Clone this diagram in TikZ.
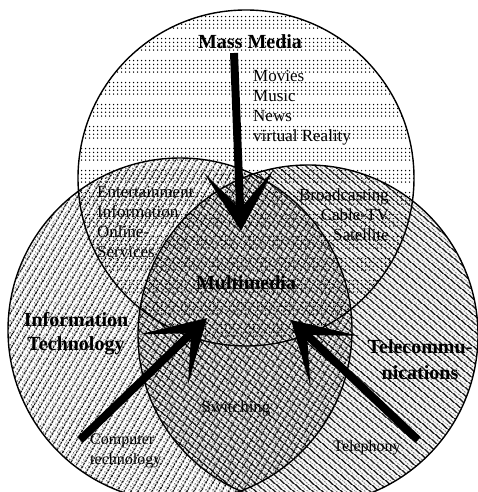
\documentclass[tikz,border=0pt]{standalone}
\usepackage{fontspec}
\setmainfont{Liberation Serif}
\usetikzlibrary{arrows.meta,patterns.meta}

\tikzdeclarepattern{name=dotrows, type=uncolored,
  bounding box={(0,0) and (4pt,22pt)}, tile size={(4pt,22pt)},
  code={\foreach \r in {2,6,10,14} {\fill (2pt,\r pt) circle (0.85pt);}}}
\tikzdeclarepattern{name=itlines, type=uncolored,
  bounding box={(0,0) and (3pt,5.5pt)}, tile size={(3pt,5.5pt)},
  tile transformation={rotate=60},
  code={\fill (0,0.8pt) rectangle (3pt,2.1pt); \fill (1.5pt,4pt) circle (0.7pt);}}
\tikzdeclarepattern{name=tclines, type=uncolored,
  bounding box={(0,0) and (3pt,6pt)}, tile size={(3pt,6pt)},
  tile transformation={rotate=-40},
  code={\fill (0,0.8pt) rectangle (3pt,2.1pt); \fill (1.5pt,4.5pt) circle (0.75pt);}}

\begin{document}
\begin{tikzpicture}[x=1pt, y=-1pt,
                ring/.style={draw, line width=1.4pt},
                bigarrow/.style={line width=8pt, -{Stealth[length=60pt, width=70pt, inset=38pt, line width=0pt]}},
                title/.style={font=\fontsize{20}{24}\selectfont\bfseries, align=center, inner sep=0pt},
                items/.style={font=\fontsize{17}{20}\selectfont, inner sep=0pt}]
                \useasboundingbox (0,0) rectangle (478,492);
                \clip (0,0) rectangle (478,492);
                \fill[white] (0,0) rectangle (478,492);
                % the three areas
                \path[pattern=itlines] (180,330) circle (172pt);
                \path[pattern=tclines] (308,335) circle (170pt);
                \path[pattern=dotrows] (246,178) circle (168pt);
                \draw[ring] (180,330) circle (172pt);
                \draw[ring] (308,335) circle (170pt);
                \draw[ring] (246,178) circle (168pt);
                % labels
                \node[title] (mass)     at (250,42)  {Mass Media};
                \node[title] (multi)    at (246,283) {Multimedia};
                \node[title] (infotech) at (76,334)  {Information\\Technology};
                \node[title, font=\fontsize{20}{26}\selectfont\bfseries] (telecom) at (420,360) {Telecommu-\\nications};
                \node[items, align=left, anchor=north west]  (movies)    at (253,70)  {Movies\\Music\\News\\virtual Reality};
                \node[items, align=left, anchor=north west]  (entertain) at (97,186)  {Entertainment\\Information\\Online-\\Services};
                \node[items, align=right, anchor=north east] (broadcast) at (389,189) {Broadcasting\\Cable-TV\\Satellite};
                \node[items] (switching) at (236,408) {Switching};
                \node[items, font=\fontsize{16}{20}\selectfont, align=left, anchor=north west] (computer) at (90,434) {Computer\\technology};
                \node[items, font=\fontsize{16}{20}\selectfont] (telephony) at (367,448) {Telephony};
                % arrows into the middle
                \coordinate (mmtail) at (234,53);
                \coordinate (mmtip)  at (241,231);
                \coordinate (ittail) at (80,440);
                \coordinate (ittip)  at (207,318);
                \coordinate (tctail) at (418,440);
                \coordinate (tctip)  at (291,320);
                \draw[bigarrow] (mmtail) -- (mmtip);
                \draw[bigarrow] (ittail) -- (ittip);
                \draw[bigarrow] (tctail) -- (tctip);
            \end{tikzpicture}
\end{document}
